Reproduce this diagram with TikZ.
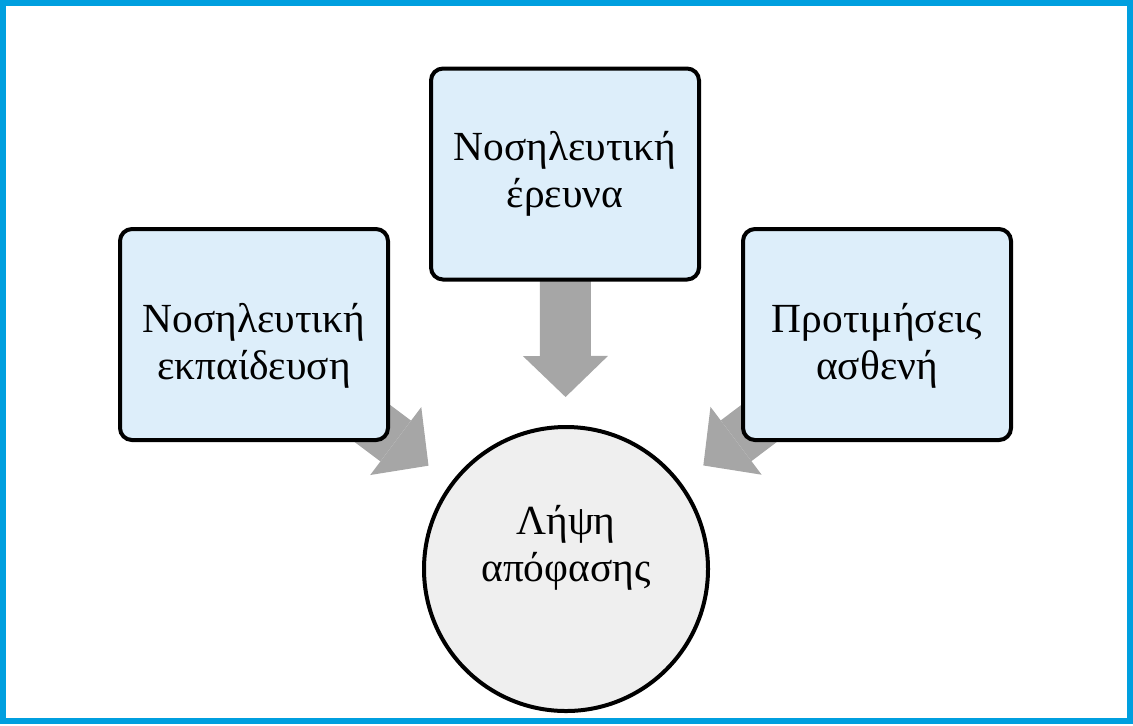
\documentclass[tikz,border=0pt]{standalone}
\usepackage{fontspec}
\setmainfont{Liberation Serif}
\usetikzlibrary{arrows.meta, backgrounds}
\definecolor{frameblue}{HTML}{009FDF}
\definecolor{boxblue}{HTML}{DDEEFA}
\definecolor{discgray}{HTML}{EFEFEF}
\definecolor{flowgray}{HTML}{A6A6A6}

\begin{document}
\begin{tikzpicture}[
		x=0.5pt, y=-0.5pt,
		box/.style={draw, line width=2pt, rectangle, rounded corners=6pt, fill=boxblue, align=center, minimum width=134pt, minimum height=105.5pt, inner sep=0pt, font=\fontsize{20.7}{23.5}\selectfont},
		disc/.style={draw, line width=2pt, circle, fill=discgray, align=center, minimum size=142pt, inner sep=0pt, font=\fontsize{20.7}{23.5}\selectfont},
		flow/.style={draw=flowgray, line width=25.5pt, -{Triangle[length=20.5pt, width=42.5pt, line width=0pt]}, shorten >=14pt}
		]
		\useasboundingbox (0,0) rectangle (1133,725);
		\draw[frameblue, line width=3pt] (3,3) rectangle (1130,721);
		
		% Nodes
		\node[box] (education) at (254,334.5) {Νοσηλευτική\\εκπαίδευση\vspace*{-11pt}};
		\node[box] (research) at (565,174) {Νοσηλευτική\\έρευνα};
		\node[box] (preferences) at (877,334.5) {Προτιμήσεις\\ασθενή\vspace*{-11pt}};
		\node[disc] (decision) at (566,569) {Λήψη\\απόφασης\vspace*{21pt}};
		
		% Arrows
		\begin{scope}[on background layer]
			\draw[flow] (education.center) -- (decision);
			\draw[flow] (research.center) -- (decision);
			\draw[flow] (preferences.center) -- (decision);
		\end{scope}
	\end{tikzpicture}
\end{document}
